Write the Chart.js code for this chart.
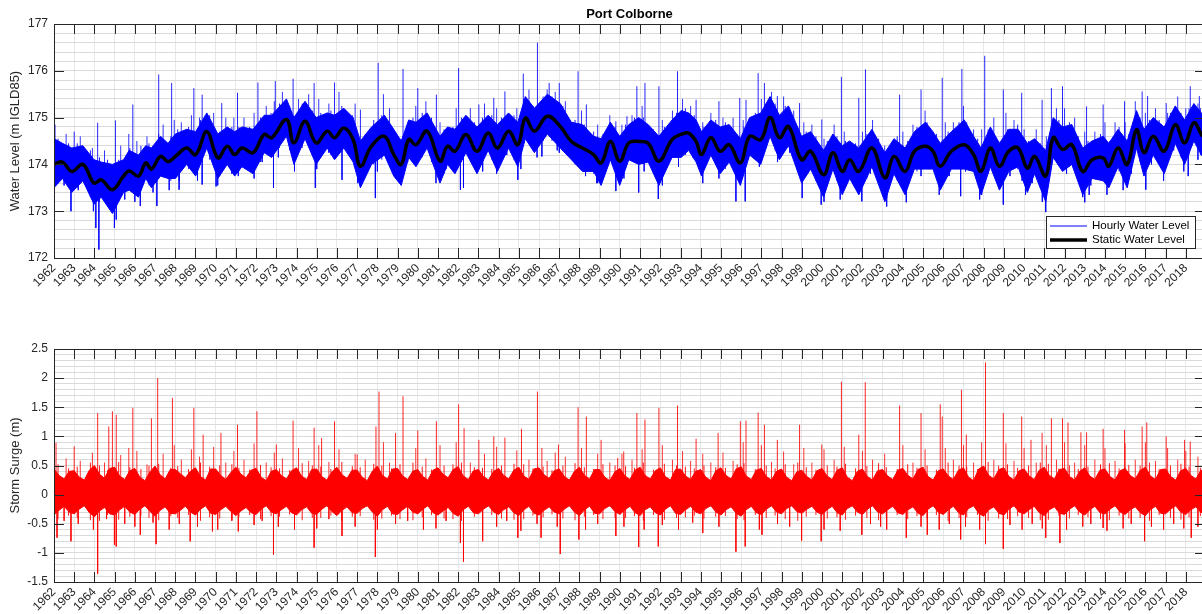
<!DOCTYPE html>
<html><head><meta charset="utf-8">
<script src="https://cdn.jsdelivr.net/npm/chart.js@4/dist/chart.umd.min.js"></script>
<style>
html,body{margin:0;padding:0;background:#fff;}
body{width:1202px;height:614px;overflow:hidden;position:relative;}
#c1{position:absolute;left:0;top:0;}
#c2{position:absolute;left:0;top:325px;}
</style></head><body>
<canvas id="c1" width="1212" height="298"></canvas>
<canvas id="c2" width="1212" height="289"></canvas>
<script>
// ---------------- data ----------------
const chartTitle = 'Port Colborne';
const xMin = 1962, xMax = 2018.95;
const yTicksTop = [172, 173, 174, 175, 176, 177];
const yTicksBottom = [-1.5, -1, -0.5, 0, 0.5, 1, 1.5, 2, 2.5];

// static (smoothed) water level, m IGLD85
const staticTime = [
 1962.0,1962.42,1962.88,1963.43,1963.98,1964.34,1964.89,1965.44,1965.72,1966.18,
 1966.54,1966.82,1967.27,1967.64,1968.01,1968.56,1969.01,1969.56,1970.11,1970.57,
 1970.94,1971.3,1971.85,1972.4,1972.77,1973.5,1973.87,1974.42,1974.97,1975.52,
 1975.88,1976.34,1976.8,1977.16,1977.71,1978.35,1978.81,1979.18,1979.55,1979.91,
 1980.46,1981.1,1981.47,1981.84,1982.38,1982.93,1983.48,1983.94,1984.49,1984.95,
 1985.32,1985.77,1986.41,1987.05,1987.6,1988.15,1988.7,1989.07,1989.53,1989.99,
 1990.44,1990.93,1991.4,1991.93,1992.58,1993.03,1993.4,1993.77,1994.04,1994.5,
 1994.96,1995.41,1995.96,1996.42,1996.97,1997.43,1997.89,1998.34,1998.99,1999.44,
 2000.08,2000.54,2001.0,2001.37,2001.82,2002.47,2003.11,2003.56,2004.11,2004.57,
 2005.12,2005.49,2005.85,2006.4,2007.04,2007.5,2007.87,2008.33,2008.78,2009.24,
 2009.7,2010.16,2010.52,2011.07,2011.44,2011.9,2012.36,2012.9,2013.36,2013.91,
 2014.19,2014.65,2015.1,2015.56,2015.93,2016.39,2016.93,2017.48,2017.94,2018.4,
 2018.77,2018.95];
const staticLevel = [
 174.0,174.05,173.85,174.0,173.6,173.67,173.46,173.75,173.86,173.75,
 174.03,173.9,174.17,174.06,174.17,174.35,174.21,174.7,174.14,174.39,
 174.21,174.35,174.25,174.64,174.57,174.96,174.46,174.92,174.46,174.71,
 174.57,174.78,174.53,173.96,174.39,174.6,174.21,174.0,174.53,174.42,
 174.71,174.07,174.39,174.28,174.64,174.28,174.67,174.35,174.71,174.42,
 174.99,174.71,175.03,174.81,174.49,174.35,174.21,174.03,174.49,174.07,
 174.46,174.49,174.45,174.07,174.53,174.64,174.67,174.49,174.21,174.57,
 174.28,174.42,174.03,174.6,174.53,175.0,174.57,174.81,174.1,174.28,
 173.78,174.25,173.85,174.1,173.85,174.35,173.71,174.17,173.85,174.28,
 174.39,174.28,173.96,174.28,174.42,174.21,173.85,174.35,173.96,174.28,
 174.35,173.92,174.17,173.75,174.57,174.32,174.42,173.85,174.1,174.14,
 173.96,174.35,174.0,174.74,174.25,174.6,174.28,174.85,174.46,174.89,
 174.64,174.55];
// dense band of the hourly record (upper / lower edge), same times
const hourlyHigh = [
 174.55,174.45,174.35,174.4,174.1,174.05,174.0,174.1,174.3,174.2,
 174.4,174.35,174.6,174.45,174.65,174.75,174.7,175.1,174.65,174.8,
 174.7,174.8,174.75,175.05,175.05,175.4,175.0,175.35,175.0,175.1,
 175.05,175.2,175.0,174.5,174.8,175.05,174.75,174.5,174.95,174.9,
 175.1,174.6,174.8,174.75,175.05,174.8,175.05,174.85,175.1,174.9,
 175.45,175.2,175.5,175.3,174.9,174.85,174.6,174.55,174.9,174.6,
 174.85,175.0,174.85,174.6,174.95,175.15,175.1,174.95,174.7,174.95,
 174.8,174.85,174.55,175.0,175.1,175.45,175.05,175.25,174.6,174.7,
 174.3,174.65,174.4,174.5,174.35,174.75,174.25,174.55,174.35,174.7,
 174.9,174.7,174.45,174.7,174.95,174.6,174.35,174.8,174.45,174.75,
 174.75,174.45,174.55,174.3,175.0,174.8,174.85,174.35,174.5,174.6,
 174.45,174.75,174.5,175.15,174.75,175.0,174.8,175.25,174.95,175.3,
 175.1,175.0];
const hourlyLow = [
 173.5,173.7,173.4,173.65,173.15,173.3,172.95,173.4,173.45,173.3,
 173.7,173.5,173.75,173.7,173.7,174.0,173.75,174.35,173.7,174.0,
 173.75,173.95,173.8,174.25,174.15,174.6,174.0,174.55,174.0,174.35,
 174.1,174.35,174.05,173.5,174.0,174.2,173.75,173.55,174.15,173.95,
 174.35,173.6,174.0,173.8,174.25,173.8,174.3,173.85,174.35,173.95,
 174.55,174.25,174.65,174.35,174.1,173.85,173.85,173.55,174.1,173.55,
 174.1,174.0,174.05,173.55,174.15,174.15,174.3,174.05,173.75,174.2,
 173.8,174.05,173.55,174.2,174.0,174.6,174.1,174.4,173.6,173.9,
 173.3,173.9,173.35,173.7,173.35,173.95,173.2,173.8,173.35,173.9,
 173.9,173.9,173.45,173.9,173.9,173.85,173.35,173.95,173.45,173.85,
 173.95,173.4,173.8,173.2,174.15,173.85,174.0,173.35,173.7,173.65,
 173.5,173.95,173.5,174.35,173.75,174.2,173.8,174.45,174.0,174.5,
 174.2,174.1];

// large peaks of the hourly record
const hourlyPeakTime = [
 1962.05,1963.0,1964.16,1965.04,1965.9,1967.18,1967.82,1968.92,1969.33,1970.3,
 1971.08,1972.09,1972.95,1973.83,1974.87,1975.88,1977.16,1978.04,1979.27,1980.0,
 1980.92,1982.02,1983.02,1983.76,1984.31,1985.22,1985.92,1986.5,1987.0,1987.93,
 1988.34,1989.8,1990.35,1990.84,1991.24,1991.93,1992.85,1993.77,1994.9,1995.93,
 1996.24,1996.84,1997.15,1997.79,1998.89,1999.99,2000.96,2001.82,2002.15,2003.84,
 2004.9,2005.95,2006.92,2008.05,2008.97,2009.88,2010.89,2011.35,2011.9,2013.09,
 2013.91,2014.97,2015.84,2016.11,2017.03,2018.22,2018.67];
const hourlyPeakLevel = [
 174.85,174.7,174.89,174.94,175.28,175.92,175.74,175.63,175.49,175.31,
 175.53,175.75,175.78,175.83,175.74,175.75,175.17,176.17,176.04,175.63,
 175.49,176.06,175.28,175.42,175.56,175.94,176.6,175.74,175.74,175.99,
 175.28,174.92,175.03,175.67,175.74,175.67,175.99,175.38,175.35,175.42,
 175.38,175.95,175.74,175.46,175.31,174.96,175.87,175.42,176.03,175.49,
 175.6,175.85,176.04,176.32,175.6,175.53,175.38,175.63,175.67,175.24,
 175.28,175.35,175.56,175.46,175.31,175.67,175.46];
// large drops of the hourly record
const hourlyDropTime = [
 1962.15,1962.84,1964.07,1964.22,1964.99,1965.08,1966.27,1967.09,1968.19,1969.33,
 1970.02,1971.12,1972.86,1974.93,1976.25,1977.02,1977.9,1979.09,1982.11,1982.26,
 1983.21,1984.95,1986.14,1987.0,1988.85,1989.8,1990.93,1991.9,1994.1,1995.74,
 1996.2,1999.02,1999.96,2001.97,2003.2,2004.17,2006.86,2007.9,2008.97,2010.07,
 2011.07,2013.0,2013.22,2016.02,2018.12];
const hourlyDropLevel = [
 173.75,173.0,172.64,172.18,172.64,172.82,173.11,173.11,173.46,173.57,
 173.53,173.75,173.5,173.5,173.67,173.6,173.28,173.67,173.46,173.5,
 173.85,173.67,174.17,174.25,173.6,173.43,173.4,173.26,173.6,173.21,
 173.21,173.28,173.14,173.21,173.28,173.19,173.32,173.35,173.14,173.35,
 172.98,173.19,173.35,173.46,173.75];

// smaller, frequent upward events (both panels)
const minorRiseTime = [
 1962.6,1963.3,1963.9,1964.5,1965.3,1965.7,1966.1,1966.6,1967.4,1967.95,
 1968.3,1968.8,1969.2,1969.9,1970.5,1970.9,1971.4,1971.9,1972.5,1972.9,
 1973.3,1974.1,1974.6,1975.1,1975.6,1976.1,1976.9,1977.4,1978.3,1978.6,
 1979.9,1980.4,1981.1,1981.9,1982.6,1983.3,1983.9,1984.9,1985.5,1986.4,
 1986.8,1987.3,1988.1,1988.9,1989.5,1990.1,1990.6,1991.1,1992.1,1992.6,
 1993.1,1993.5,1994.1,1994.5,1995.1,1995.6,1996.1,1997.0,1997.5,1998.1,
 1998.6,1999.1,1999.5,2000.1,2000.6,2001.1,2002.0,2002.5,2003.1,2004.0,
 2004.5,2005.1,2006.1,2006.5,2007.0,2007.5,2007.9,2008.5,2009.1,2009.5,
 2010.0,2010.6,2011.1,2011.6,2012.0,2012.5,2013.0,2013.5,2014.0,2014.5,
 2015.0,2015.5,2016.0,2016.5,2017.1,2017.6,2018.0,2018.6];
const minorRiseLevel = [
 174.65,174.6,174.35,174.3,174.4,174.65,174.5,174.6,174.85,174.95,
 174.9,175.05,175.0,175.1,175.0,175.0,175.0,175.1,175.25,175.35,
 175.55,175.4,175.5,175.4,175.3,175.55,175.3,174.65,175.5,175.2,
 175.25,175.35,174.9,175.2,175.2,175.3,175.2,175.2,175.6,175.6,
 175.55,175.35,175.15,174.85,175.05,174.85,175.05,175.25,174.95,175.15,
 175.4,175.25,174.9,175.1,175.0,175.0,174.95,175.4,175.55,175.45,
 175.15,174.9,174.85,174.55,174.85,174.7,174.7,174.95,174.4,174.7,
 174.85,175.15,174.9,174.9,175.25,174.75,174.75,175.0,175.1,174.95,
 174.75,174.75,174.6,175.2,175.2,175.0,174.7,174.7,174.9,174.9,
 174.9,175.35,175.1,175.2,175.1,175.45,175.2,175.3];
const minorRiseSurge = [
 0.62,0.58,0.72,0.55,0.68,0.8,0.75,0.52,0.7,0.85,
 0.6,0.78,0.65,0.82,0.55,0.75,0.6,0.88,0.55,0.72,
 0.62,0.8,0.58,0.85,0.56,0.78,0.7,0.6,0.9,0.55,
 0.8,0.62,0.85,0.9,0.55,0.7,0.82,0.76,0.6,0.58,
 0.72,0.65,0.8,0.7,0.55,0.7,0.6,0.78,0.85,0.6,
 0.75,0.58,0.7,0.55,0.72,0.58,0.9,0.85,0.56,0.74,
 0.52,0.8,0.55,0.78,0.6,0.82,0.75,0.6,0.7,0.85,
 0.55,0.78,0.8,0.6,0.85,0.55,0.9,0.6,0.88,0.58,
 0.8,0.55,0.85,0.6,0.9,0.55,0.85,0.6,0.8,0.58,
 0.88,0.6,0.9,0.58,0.8,0.6,0.75,0.65];
// smaller, frequent downward events (both panels)
const minorFallTime = [
 1962.5,1963.2,1963.95,1964.6,1965.5,1966.0,1966.9,1967.7,1968.2,1969.1,
 1970.1,1970.8,1971.9,1972.3,1973.1,1973.9,1975.0,1975.6,1976.9,1978.0,
 1978.9,1979.5,1980.9,1981.4,1983.9,1984.4,1985.1,1985.9,1986.9,1988.3,
 1988.9,1990.2,1991.2,1992.1,1992.9,1993.6,1994.9,1996.9,1997.8,1998.4,
 2000.1,2000.9,2002.4,2002.9,2003.2,2004.9,2005.8,2006.3,2007.1,2007.8,
 2009.3,2009.9,2010.4,2010.9,2012.1,2012.9,2013.3,2014.1,2014.9,2015.3,
 2016.3,2016.9,2017.4,2017.9,2018.6];
const minorFallLevel = [
 173.55,173.45,173.0,173.2,173.25,173.2,173.4,173.45,173.65,173.65,
 173.55,173.8,173.7,174.05,174.15,173.85,173.9,174.25,173.95,173.85,
 173.7,174.05,173.6,173.9,173.8,174.2,173.9,174.15,174.3,173.75,
 173.6,173.7,173.85,173.55,173.95,174.15,173.7,173.95,174.05,174.25,
 173.2,173.25,173.8,173.55,173.1,173.75,173.35,173.75,173.85,173.25,
 173.75,173.65,173.6,173.2,173.8,173.3,173.55,173.35,173.45,173.8,
 174.0,173.65,174.3,173.85,174.1];
const minorFallSurge = [
 -0.45,-0.5,-0.6,-0.42,-0.5,-0.55,-0.48,-0.6,-0.5,-0.55,
 -0.6,-0.45,-0.52,-0.45,-0.55,-0.6,-0.58,-0.42,-0.55,-0.6,
 -0.5,-0.45,-0.58,-0.45,-0.55,-0.45,-0.62,-0.5,-0.55,-0.6,
 -0.5,-0.55,-0.6,-0.52,-0.6,-0.48,-0.55,-0.6,-0.5,-0.55,
 -0.6,-0.62,-0.5,-0.55,-0.6,-0.55,-0.6,-0.5,-0.55,-0.6,
 -0.52,-0.6,-0.5,-0.58,-0.6,-0.55,-0.5,-0.62,-0.58,-0.5,
 -0.55,-0.6,-0.5,-0.58,-0.55];

// small oscillation events (both panels): times, then ranges
const swingTime = [
 1962.2,1962.72,1963.15,1963.8,1964.25,1964.65,1965.2,1965.75,1966.3,1966.7,
 1967.18,1967.78,1968.12,1968.66,1969.25,1969.7,1970.2,1970.8,1971.15,1971.68,
 1972.22,1972.74,1973.16,1973.66,1974.28,1974.78,1975.2,1975.7,1976.24,1976.76,
 1977.15,1977.82,1978.22,1978.7,1979.12,1979.76,1980.22,1980.68,1981.3,1981.74,
 1982.16,1982.8,1983.2,1983.66,1984.14,1984.76,1985.24,1985.7,1986.2,1986.64,
 1987.18,1987.78,1988.24,1988.7,1989.16,1989.76,1990.28,1990.72,1991.16,1991.66,
 1992.2,1992.8,1993.24,1993.68,1994.16,1994.74,1995.22,1995.8,1996.14,1996.7,
 1997.24,1997.68,1998.18,1998.8,1999.22,1999.7,2000.26,2000.74,2001.16,2001.66,
 2002.22,2002.8,2003.18,2003.72,2004.24,2004.7,2005.2,2005.66,2006.24,2006.78,
 2007.16,2007.7,2008.22,2008.74,2009.18,2009.68,2010.22,2010.8,2011.2,2011.72,
 2012.24,2012.68,2013.16,2013.78,2014.22,2014.7,2015.18,2015.74,2016.2,2016.68,
 2017.24,2017.76,2018.16,2018.72];
const hourlySwingHigh = [
 174.55,174.45,174.45,174.3,174.15,174.1,174.1,174.35,174.4,174.45,
 174.65,174.6,174.75,174.8,174.95,175.05,174.7,174.8,174.8,174.8,
 175.0,175.1,175.3,175.25,175.3,175.15,175.1,175.15,175.25,175.05,
 174.5,174.95,175.05,174.8,174.55,175.0,175.1,175.0,174.75,174.8,
 175.0,174.9,175.0,175.05,175.0,175.05,175.4,175.25,175.45,175.45,
 175.25,174.95,174.85,174.7,174.65,174.8,174.85,175.0,175.0,174.75,
 174.8,175.1,175.2,175.05,174.8,174.95,174.9,174.65,174.8,175.1,
 175.3,175.3,175.25,174.8,174.7,174.6,174.5,174.6,174.5,174.45,
 174.65,174.55,174.3,174.6,174.5,174.8,174.9,174.65,174.7,174.9,
 174.9,174.55,174.75,174.5,174.75,174.85,174.5,174.45,174.55,174.95,
 174.9,174.6,174.5,174.65,174.5,174.8,174.65,175.0,174.95,174.95,
 175.1,175.1,175.2,175.2];
const hourlySwingLow = [
 173.6,173.5,173.5,173.3,173.2,173.1,173.2,173.45,173.45,173.55,
 173.7,173.65,173.8,173.9,174.0,174.1,173.75,173.85,173.85,173.85,
 174.05,174.15,174.35,174.3,174.35,174.2,174.15,174.2,174.3,174.1,
 173.55,174.0,174.1,173.85,173.6,174.05,174.15,174.05,173.8,173.85,
 174.05,173.95,174.05,174.1,174.05,174.1,174.45,174.3,174.5,174.5,
 174.3,174.0,173.9,173.8,173.7,173.85,173.9,174.05,174.05,173.85,
 173.85,174.15,174.2,174.1,173.9,174.0,173.9,173.7,173.85,174.1,
 174.35,174.3,174.3,173.9,173.75,173.65,173.55,173.65,173.55,173.5,
 173.7,173.6,173.35,173.65,173.55,173.85,173.95,173.7,173.75,173.95,
 173.9,173.6,173.8,173.55,173.8,173.9,173.55,173.5,173.6,174.0,
 173.95,173.65,173.55,173.7,173.55,173.85,173.7,174.05,174.0,174.0,
 174.15,174.15,174.2,174.2];
const surgeSwingHigh = [
 0.52,0.45,0.48,0.55,0.5,0.42,0.56,0.47,0.44,0.5,
 0.53,0.46,0.49,0.44,0.55,0.48,0.5,0.52,0.46,0.43,
 0.51,0.47,0.45,0.42,0.54,0.5,0.48,0.44,0.56,0.49,
 0.47,0.53,0.5,0.45,0.52,0.55,0.48,0.43,0.5,0.52,
 0.55,0.47,0.46,0.44,0.5,0.53,0.52,0.45,0.48,0.42,
 0.5,0.54,0.47,0.44,0.52,0.5,0.49,0.46,0.55,0.43,
 0.53,0.5,0.48,0.45,0.5,0.47,0.46,0.52,0.54,0.44,
 0.5,0.45,0.52,0.55,0.47,0.43,0.5,0.48,0.53,0.45,
 0.49,0.54,0.47,0.44,0.52,0.46,0.5,0.43,0.55,0.5,
 0.48,0.44,0.56,0.5,0.52,0.46,0.5,0.55,0.53,0.45,
 0.5,0.44,0.48,0.52,0.54,0.45,0.51,0.5,0.55,0.44,
 0.5,0.53,0.48,0.46];
const surgeSwingLow = [
 -0.42,-0.36,-0.4,-0.44,-0.45,-0.35,-0.43,-0.38,-0.36,-0.4,
 -0.44,-0.37,-0.4,-0.35,-0.45,-0.39,-0.41,-0.43,-0.38,-0.35,
 -0.42,-0.37,-0.38,-0.34,-0.44,-0.4,-0.4,-0.36,-0.45,-0.38,
 -0.37,-0.43,-0.41,-0.36,-0.42,-0.44,-0.39,-0.35,-0.41,-0.42,
 -0.45,-0.38,-0.37,-0.35,-0.41,-0.43,-0.42,-0.36,-0.39,-0.34,
 -0.41,-0.44,-0.38,-0.35,-0.42,-0.4,-0.4,-0.37,-0.45,-0.35,
 -0.43,-0.4,-0.39,-0.36,-0.41,-0.38,-0.37,-0.42,-0.44,-0.35,
 -0.4,-0.36,-0.42,-0.45,-0.38,-0.35,-0.41,-0.39,-0.43,-0.36,
 -0.4,-0.44,-0.38,-0.35,-0.42,-0.37,-0.41,-0.35,-0.45,-0.4,
 -0.39,-0.35,-0.45,-0.41,-0.42,-0.37,-0.4,-0.44,-0.43,-0.36,
 -0.41,-0.35,-0.39,-0.42,-0.44,-0.36,-0.41,-0.4,-0.45,-0.35,
 -0.4,-0.43,-0.39,-0.37];

// storm surge: dense band edges, quarterly (Jan, Apr, Jul, Oct)
const surgeHigh = [
 0.44,0.33,0.27,0.4, 0.41,0.3,0.25,0.42, 0.5,0.35,0.28,0.45, 0.47,0.32,0.26,0.41, 0.45,0.3,0.24,0.39,
 0.49,0.34,0.27,0.43, 0.43,0.36,0.29,0.4, 0.46,0.31,0.25,0.44, 0.44,0.33,0.26,0.38, 0.47,0.35,0.29,0.42,
 0.45,0.3,0.24,0.4, 0.43,0.33,0.27,0.41, 0.46,0.32,0.26,0.43, 0.44,0.31,0.25,0.39, 0.47,0.34,0.28,0.42,
 0.42,0.3,0.24,0.4, 0.49,0.33,0.27,0.44, 0.45,0.32,0.26,0.4, 0.43,0.31,0.25,0.42, 0.46,0.35,0.29,0.43,
 0.48,0.32,0.26,0.41, 0.43,0.31,0.25,0.4, 0.45,0.33,0.27,0.42, 0.47,0.32,0.26,0.44, 0.46,0.34,0.28,0.41,
 0.44,0.31,0.25,0.4, 0.47,0.33,0.27,0.43, 0.43,0.3,0.24,0.39, 0.45,0.32,0.26,0.42, 0.47,0.33,0.27,0.41,
 0.46,0.31,0.25,0.43, 0.44,0.32,0.26,0.4, 0.43,0.3,0.24,0.41, 0.46,0.33,0.27,0.44, 0.48,0.32,0.26,0.42,
 0.45,0.31,0.25,0.4, 0.44,0.3,0.24,0.39, 0.42,0.31,0.25,0.41, 0.45,0.32,0.26,0.42, 0.46,0.3,0.24,0.4,
 0.44,0.31,0.25,0.41, 0.43,0.32,0.26,0.42, 0.45,0.33,0.27,0.43, 0.47,0.31,0.25,0.41, 0.44,0.32,0.26,0.42,
 0.46,0.3,0.24,0.44, 0.49,0.33,0.27,0.43, 0.46,0.31,0.25,0.41, 0.44,0.32,0.26,0.42, 0.47,0.33,0.27,0.43,
 0.45,0.31,0.25,0.4, 0.46,0.32,0.26,0.42, 0.44,0.31,0.25,0.41, 0.45,0.33,0.27,0.42, 0.47,0.32,0.26,0.43,
 0.44,0.31,0.25,0.41, 0.45,0.33,0.27,0.42, 0.4];
const surgeLow = [
 -0.35,-0.27,-0.2,-0.3, -0.33,-0.25,-0.19,-0.31, -0.38,-0.28,-0.22,-0.33, -0.35,-0.26,-0.2,-0.3, -0.34,-0.25,-0.19,-0.29,
 -0.37,-0.27,-0.21,-0.32, -0.33,-0.27,-0.2,-0.3, -0.35,-0.25,-0.19,-0.32, -0.34,-0.26,-0.2,-0.29, -0.36,-0.28,-0.22,-0.31,
 -0.34,-0.25,-0.19,-0.3, -0.33,-0.26,-0.2,-0.31, -0.35,-0.26,-0.21,-0.32, -0.34,-0.25,-0.19,-0.29, -0.36,-0.27,-0.21,-0.31,
 -0.32,-0.24,-0.19,-0.3, -0.37,-0.26,-0.2,-0.33, -0.34,-0.26,-0.2,-0.3, -0.33,-0.25,-0.19,-0.31, -0.35,-0.28,-0.22,-0.32,
 -0.37,-0.26,-0.2,-0.31, -0.33,-0.25,-0.19,-0.3, -0.34,-0.26,-0.21,-0.31, -0.36,-0.26,-0.2,-0.32, -0.35,-0.27,-0.21,-0.3,
 -0.33,-0.25,-0.19,-0.3, -0.36,-0.26,-0.2,-0.32, -0.33,-0.24,-0.19,-0.29, -0.34,-0.26,-0.2,-0.31, -0.36,-0.26,-0.21,-0.31,
 -0.35,-0.25,-0.19,-0.32, -0.34,-0.26,-0.2,-0.3, -0.33,-0.24,-0.19,-0.3, -0.35,-0.26,-0.21,-0.32, -0.37,-0.26,-0.2,-0.31,
 -0.34,-0.25,-0.19,-0.3, -0.33,-0.24,-0.19,-0.29, -0.32,-0.25,-0.2,-0.3, -0.34,-0.26,-0.2,-0.31, -0.35,-0.24,-0.19,-0.3,
 -0.34,-0.25,-0.19,-0.3, -0.33,-0.26,-0.2,-0.31, -0.34,-0.26,-0.21,-0.32, -0.36,-0.25,-0.19,-0.3, -0.34,-0.26,-0.2,-0.31,
 -0.35,-0.24,-0.19,-0.32, -0.37,-0.26,-0.21,-0.32, -0.35,-0.25,-0.19,-0.3, -0.33,-0.26,-0.2,-0.31, -0.36,-0.26,-0.21,-0.32,
 -0.34,-0.25,-0.19,-0.3, -0.35,-0.26,-0.2,-0.31, -0.33,-0.25,-0.19,-0.3, -0.34,-0.26,-0.21,-0.31, -0.36,-0.26,-0.2,-0.32,
 -0.33,-0.25,-0.19,-0.3, -0.34,-0.26,-0.21,-0.31, -0.3];
// large surges
const surgePeakTime = [
 1962.1,1963.0,1964.16,1964.71,1964.89,1965.08,1965.9,1966.82,1967.13,1967.86,
 1968.92,1969.38,1970.26,1971.08,1972.04,1973.0,1973.83,1974.87,1975.24,1975.88,
 1977.0,1977.93,1978.08,1978.9,1979.27,1980.0,1980.92,1982.02,1982.29,1983.02,
 1983.76,1984.31,1985.13,1985.92,1986.14,1986.96,1987.93,1988.34,1989.07,1989.89,
 1990.19,1990.84,1991.24,1991.93,1992.85,1993.77,1994.86,1995.96,1996.24,1996.84,
 1997.15,1997.79,1998.89,1999.99,2000.96,2001.82,2002.14,2003.84,2004.9,2005.85,
 2005.95,2006.9,2007.14,2008.09,2008.97,2009.88,2010.34,2010.89,2011.35,2011.9,
 2012.17,2012.81,2013.09,2013.91,2014.97,2015.84,2016.07,2017.03,2017.94,2018.22];
const surgePeakValue = [
 0.89,0.83,1.4,1.17,1.43,1.37,1.49,1.31,2.0,1.66,
 1.49,1.03,1.06,1.2,1.43,0.86,1.27,1.15,0.97,1.26,
 0.69,1.17,1.77,1.06,1.69,1.1,1.26,1.55,1.14,0.94,
 1.0,0.98,1.13,1.77,0.8,0.86,1.5,1.34,0.94,0.63,
 0.74,1.4,1.29,1.49,1.53,0.96,1.06,1.26,1.27,1.41,
 1.2,0.94,1.2,0.86,1.94,1.03,1.93,1.53,1.4,1.55,
 1.34,1.8,1.03,2.27,1.4,1.34,0.94,1.06,1.31,1.31,
 1.24,1.07,1.07,1.13,1.11,1.17,1.24,1.0,0.94,0.91];
// large set-downs
const surgeDropTime = [
 1962.15,1962.84,1964.16,1964.99,1965.08,1966.27,1967.05,1968.74,1969.84,1971.12,
 1972.86,1974.87,1976.25,1977.9,1980.28,1982.11,1982.26,1983.21,1984.95,1986.1,
 1987.05,1987.97,1989.8,1990.93,1991.9,1994.1,1995.74,1996.2,1997.03,1998.99,
 1999.96,2001.97,2004.17,2005.21,2006.86,2008.09,2008.97,2011.07,2011.77,2013.91,
 2015.96,2018.27];
const surgeDropValue = [
 -0.74,-0.8,-1.36,-0.86,-0.89,-0.69,-0.85,-0.8,-0.63,-0.63,
 -1.03,-0.91,-0.71,-1.07,-0.6,-0.83,-1.15,-0.8,-0.74,-0.74,
 -1.02,-0.77,-0.71,-0.9,-0.89,-0.66,-0.98,-0.89,-0.69,-0.79,
 -0.8,-0.69,-0.74,-0.69,-0.77,-0.85,-0.93,-0.74,-0.83,-0.57,
 -0.8,-0.74];

// quarterly time grid of the surge band
const surgeTime = [];
for (let y = 1962; y <= 2018; y++) { surgeTime.push(y, y + 0.25, y + 0.5, y + 0.75); }
surgeTime.push(xMax);

// ---------------- helpers ----------------
const FONT = "'Liberation Sans', Arial, Helvetica, sans-serif";
const INK = '#262626';
const pts = (t, v) => t.map((x, i) => ({x, y: v[i]}));
function levelAt(t) {
  if (t <= staticTime[0]) return staticLevel[0];
  for (let i = 1; i < staticTime.length; i++) {
    if (t <= staticTime[i]) {
      const f = (t - staticTime[i-1]) / (staticTime[i] - staticTime[i-1]);
      return staticLevel[i-1] + f * (staticLevel[i] - staticLevel[i-1]);
    }
  }
  return staticLevel[staticLevel.length - 1];
}
function spikes(times, tips, base) {
  const out = [];
  times.forEach((t, i) => {
    const b = typeof base === 'function' ? base(t) : (Array.isArray(base) ? base[i] : base);
    out.push({x: t, y: b}, {x: t, y: tips[i]}, {x: t, y: null});
  });
  return out;
}
const isMajor = (v, list) => list.some(m => Math.abs(m - v) < 1e-6);
const fmt = v => String(Math.round(v * 10) / 10);

const frame = {
  id: 'frame',
  afterDatasetsDraw(chart, args, opts) {
    const {ctx, chartArea: a, scales: {x, y}} = chart;
    const TL = 10;
    ctx.save();
    ctx.strokeStyle = INK; ctx.lineWidth = 1;
    ctx.beginPath();
    x.ticks.forEach(t => {
      const px = Math.round(x.getPixelForValue(t.value)) + 0.5;
      ctx.moveTo(px, a.bottom); ctx.lineTo(px, a.bottom - TL);
      ctx.moveTo(px, a.top); ctx.lineTo(px, a.top + TL);
    });
    opts.majors.forEach(v => {
      const py = Math.round(y.getPixelForValue(v)) + 0.5;
      ctx.moveTo(a.left, py); ctx.lineTo(a.left + TL, py);
      ctx.moveTo(a.right, py); ctx.lineTo(a.right - TL, py);
    });
    ctx.stroke();
    ctx.strokeRect(Math.round(a.left) + 0.5, Math.round(a.top) + 0.5,
                   Math.round(a.right - a.left), Math.round(a.bottom - a.top));
    ctx.restore();
  },
  afterDraw(chart, args, opts) {
    const {ctx, chartArea: a} = chart;
    ctx.save();
    if (opts.title) {
      ctx.fillStyle = '#000';
      ctx.font = 'bold 13px ' + FONT;
      ctx.textAlign = 'center'; ctx.textBaseline = 'middle';
      ctx.fillText(opts.title, (a.left + a.right) / 2, a.top - 10);
    }
    if (opts.legend) {
      const r = a.right - 10, b = a.bottom - 10, w = 149, h = 32;
      const l = r - w, t = b - h;
      ctx.fillStyle = '#fff'; ctx.fillRect(l, t, w, h);
      ctx.strokeStyle = INK; ctx.lineWidth = 1;
      ctx.strokeRect(Math.round(l) + 0.5, Math.round(t) + 0.5, w, h);
      ctx.lineWidth = 1; ctx.strokeStyle = '#0000ff';
      ctx.beginPath(); ctx.moveTo(l + 4, t + 10); ctx.lineTo(l + 41, t + 10); ctx.stroke();
      ctx.lineWidth = 3.5; ctx.strokeStyle = '#000';
      ctx.beginPath(); ctx.moveTo(l + 4, t + 24); ctx.lineTo(l + 41, t + 24); ctx.stroke();
      ctx.fillStyle = '#000'; ctx.font = '11.5px ' + FONT;
      ctx.textAlign = 'left'; ctx.textBaseline = 'middle';
      ctx.fillText('Hourly Water Level', l + 46, t + 10);
      ctx.fillText('Static Water Level', l + 46, t + 24);
    }
    ctx.restore();
  }
};

function xAxis(h) {
  return {
    type: 'linear', min: xMin, max: xMax,
    afterFit(s) { s.height = h; },
    grid: {color: '#e8e8e8', drawTicks: false, lineWidth: 1},
    border: {display: false},
    ticks: {stepSize: 1, includeBounds: false, autoSkip: false, maxRotation: 45, minRotation: 45,
            padding: 3, color: INK, font: {family: FONT, size: 12},
            callback: v => String(Math.round(v))}
  };
}
function yAxis(min, max, step, majors, title) {
  return {
    type: 'linear', min, max,
    afterFit(s) { s.width = 54; },
    grid: {color: '#dadada', drawTicks: false, lineWidth: 1},
    border: {display: false},
    ticks: {stepSize: step, autoSkip: false, padding: 6, color: INK, font: {family: FONT, size: 12},
            callback: v => isMajor(v, majors) ? fmt(v) : ''},
    title: {display: true, text: title, color: INK, font: {family: FONT, size: 13}, padding: {top: 8, bottom: 0}}
  };
}
const common = {
  responsive: false, animation: false, events: [],
  elements: {point: {radius: 0}, line: {borderCapStyle: 'butt'}}
};
const spikeSet = (data, color) => ({label: 'events', data, borderColor: color, borderWidth: 1,
                                    fill: false, spanGaps: false, order: 1});

// ---------------- top panel ----------------
new Chart(document.getElementById('c1'), {
  type: 'line',
  data: {datasets: [
    {label: 'Static Water Level', data: pts(staticTime, staticLevel), borderColor: '#000',
     borderWidth: 3.5, tension: 0.4, fill: false, order: 0},
    spikeSet(spikes(hourlyPeakTime, hourlyPeakLevel, levelAt), 'rgba(0,0,255,0.85)'),
    spikeSet(spikes(hourlyDropTime, hourlyDropLevel, levelAt), 'rgba(0,0,255,0.85)'),
    spikeSet(spikes(minorRiseTime, minorRiseLevel, levelAt), 'rgba(0,0,255,0.8)'),
    spikeSet(spikes(minorFallTime, minorFallLevel, levelAt), 'rgba(0,0,255,0.8)'),
    spikeSet(spikes(swingTime, hourlySwingHigh, hourlySwingLow), 'rgba(0,0,255,0.9)'),
    {label: 'Hourly Water Level', data: pts(staticTime, hourlyHigh), borderColor: '#0000ff',
     backgroundColor: '#0000ff', borderWidth: 1, fill: '+1', order: 2},
    {label: 'hourly low', data: pts(staticTime, hourlyLow), borderColor: '#0000ff',
     borderWidth: 1, fill: false, order: 2}
  ]},
  options: Object.assign({}, common, {
    layout: {padding: {top: 24, left: 0, right: 7, bottom: 0}},
    scales: {x: xAxis(40), y: yAxis(172, 177, 0.2, yTicksTop, 'Water Level (m IGLD85)')},
    plugins: {legend: {display: false}, tooltip: {enabled: false},
              frame: {majors: yTicksTop, title: chartTitle, legend: true}}
  }),
  plugins: [frame]
});

// ---------------- bottom panel ----------------
new Chart(document.getElementById('c2'), {
  type: 'line',
  data: {datasets: [
    spikeSet(spikes(surgePeakTime, surgePeakValue, 0), 'rgba(255,0,0,0.85)'),
    spikeSet(spikes(surgeDropTime, surgeDropValue, 0), 'rgba(255,0,0,0.85)'),
    spikeSet(spikes(minorRiseTime, minorRiseSurge, 0), 'rgba(255,0,0,0.8)'),
    spikeSet(spikes(minorFallTime, minorFallSurge, 0), 'rgba(255,0,0,0.8)'),
    spikeSet(spikes(swingTime, surgeSwingHigh, surgeSwingLow), 'rgba(255,0,0,0.9)'),
    {label: 'Storm Surge', data: pts(surgeTime, surgeHigh), borderColor: '#ff0000',
     backgroundColor: '#ff0000', borderWidth: 1, fill: '+1', order: 2},
    {label: 'surge low', data: pts(surgeTime, surgeLow), borderColor: '#ff0000',
     borderWidth: 1, fill: false, order: 2}
  ]},
  options: Object.assign({}, common, {
    layout: {padding: {top: 24, left: 0, right: 7, bottom: 0}},
    scales: {x: xAxis(32), y: yAxis(-1.5, 2.5, 0.1, yTicksBottom, 'Storm Surge (m)')},
    plugins: {legend: {display: false}, tooltip: {enabled: false},
              frame: {majors: yTicksBottom}}
  }),
  plugins: [frame]
});
</script></body></html>
